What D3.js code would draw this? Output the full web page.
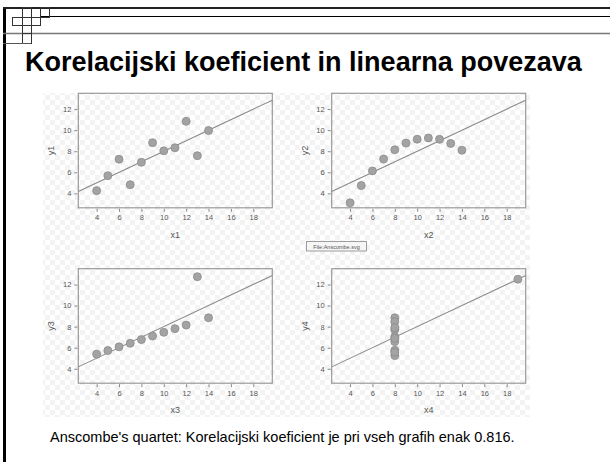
<!DOCTYPE html>
<html>
<head>
<meta charset="utf-8">
<script src="https://cdn.jsdelivr.net/npm/d3@7"></script>
<style>
body { margin:0; background:#fff; }
svg { display:block; font-family:"Liberation Sans", Arial, sans-serif; }
</style>
</head>
<body>
<div id="wrapper"></div>
<script>
var title = 'Korelacijski koeficient in linearna povezava';
var caption = "Anscombe's quartet: Korelacijski koeficient je pri vseh grafih enak 0.816.";

var x123 = [10,8,13,9,11,14,6,4,12,7,5];
var y1 = [8.04,6.95,7.58,8.81,8.33,9.96,7.24,4.26,10.84,4.82,5.68];
var y2 = [9.14,8.14,8.74,8.77,9.26,8.10,6.13,3.10,9.13,7.26,4.74];
var y3 = [7.46,6.77,12.74,7.11,7.81,8.84,6.08,5.39,8.15,6.42,5.73];
var x4 = [8,8,8,8,8,8,8,19,8,8,8];
var y4 = [6.58,5.76,7.71,8.84,8.47,7.04,5.25,12.50,5.56,7.91,6.89];

var xTicks = [4,6,8,10,12,14,16,18];
var yTicks = [4,6,8,10,12];
var fit = [3, 0.5]; // y = 3 + 0.5x

var panels = [
	{name:'1', xs:x123, ys:y1, col:0, row:0},
	{name:'2', xs:x123, ys:y2, col:1, row:0},
	{name:'3', xs:x123, ys:y3, col:0, row:1},
	{name:'4', xs:x4, ys:y4, col:1, row:1}
];

var canvas = d3.select('#wrapper')
				.append('svg')
				.attr('width',610)
				.attr('height',462);

// checker pattern of the embedded picture
var defs = canvas.append('defs');
var pat = defs.append('pattern')
				.attr('id','checker')
				.attr('width',10)
				.attr('height',10)
				.attr('patternUnits','userSpaceOnUse');
pat.append('rect').attr('width',10).attr('height',10).style('fill','#fff');
pat.append('rect').attr('width',5).attr('height',5).style('fill','#f3f3f3');
pat.append('rect').attr('x',5).attr('y',5).attr('width',5).attr('height',5).style('fill','#f3f3f3');

// slide frame
var frame = canvas.append('g').attr('id','frame');
frame.append('rect').attr('x',3).attr('y',7).attr('width',3).attr('height',455).style('fill','#000');
frame.append('line').attr('x1',3).attr('y1',8).attr('x2',610).attr('y2',8)
	.style('stroke','#222').style('stroke-width',2);
frame.append('line').attr('x1',40).attr('y1',16.5).attr('x2',610).attr('y2',16.5)
	.style('stroke','#000').style('stroke-width',1);
frame.append('line').attr('x1',3).attr('y1',33.5).attr('x2',610).attr('y2',33.5)
	.style('stroke','#777').style('stroke-width',1.5);

var squares = [[12,17,10,8],[22,7,9,10],[22,25,9,8],[22,33,9,10],[31,17,9,8],[40,7,9,10]];
frame.selectAll('rect.sq')
	.data(squares)
	.enter()
	.append('rect')
	.attr('class','sq')
	.attr('x',function(d){ return d[0]+0.5; })
	.attr('y',function(d){ return d[1]+0.5; })
	.attr('width',function(d){ return d[2]; })
	.attr('height',function(d){ return d[3]; })
	.style('fill','none')
	.style('stroke','#333')
	.style('stroke-width',1);
frame.append('line').attr('x1',3).attr('y1',43.5).attr('x2',31).attr('y2',43.5)
	.style('stroke','#555').style('stroke-width',1);

canvas.append('text')
	.attr('x',25)
	.attr('y',71)
	.text(title)
	.style('font-size','27px')
	.style('font-weight','bold')
	.style('fill','#000');

// picture area
canvas.append('rect')
	.attr('x',43).attr('y',93)
	.attr('width',487).attr('height',324)
	.style('fill','url(#checker)');

var pw = 194, ph = 114.5;
var colX = [78.3, 331.7], rowY = [93.3, 268.7];

var xscale = d3.scaleLinear().domain([2.36,19.7]).range([0,pw]);
var yscale = d3.scaleLinear().domain([2.63,13.5]).range([ph,0]);

panels.forEach(function(p){
	var g = canvas.append('g')
				.attr('transform','translate('+colX[p.col]+','+rowY[p.row]+')');

	g.append('rect')
		.attr('width',pw).attr('height',ph)
		.style('fill','none')
		.style('stroke','#999')
		.style('stroke-width',1.2);

	var xAxis = d3.axisBottom(xscale).tickValues(xTicks).tickSize(3).tickPadding(3);
	var yAxis = d3.axisLeft(yscale).tickValues(yTicks).tickSize(3).tickPadding(3);

	var xa = g.append('g').attr('transform','translate(0,'+(ph+1)+')').call(xAxis);
	var ya = g.append('g').attr('transform','translate(-1,0)').call(yAxis);
	[xa, ya].forEach(function(a){
		a.select('.domain').remove();
		a.selectAll('line').style('stroke','#888');
		a.selectAll('text').style('fill','#555').style('font-size','7.5px')
			.style('font-family','"Liberation Sans", Arial, sans-serif');
	});

	g.append('text')
		.attr('x',pw/2).attr('y',ph+30)
		.attr('text-anchor','middle')
		.text('x'+p.name)
		.style('font-size','9px').style('fill','#555');
	g.append('text')
		.attr('transform','translate(-24,'+(ph/2)+') rotate(-90)')
		.attr('text-anchor','middle')
		.text('y'+p.name)
		.style('font-size','9px').style('fill','#555');

	var dom = xscale.domain();
	g.append('line')
		.attr('x1',xscale(dom[0])).attr('y1',yscale(fit[0]+fit[1]*dom[0]))
		.attr('x2',xscale(dom[1])).attr('y2',yscale(fit[0]+fit[1]*dom[1]))
		.style('stroke','#8a8a8a').style('stroke-width',1.1);

	g.selectAll('circle')
		.data(p.xs)
		.enter()
		.append('circle')
		.attr('cx',function(d){ return xscale(d); })
		.attr('cy',function(d,i){ return yscale(p.ys[i]); })
		.attr('r',4)
		.style('fill','#a3a3a3')
		.style('stroke','#8c8c8c')
		.style('stroke-width',0.8);
});

// file link button
var btn = canvas.append('g').attr('transform','translate(306.5,241.5)');
btn.append('rect').attr('width',60).attr('height',9.5)
	.style('fill','#f6f6f6').style('stroke','#888').style('stroke-width',0.8);
btn.append('text').attr('x',30).attr('y',7).attr('text-anchor','middle')
	.text('File:Anscombe.svg').style('font-size','5.5px').style('fill','#555');

canvas.append('text')
	.attr('x',50)
	.attr('y',442)
	.text(caption)
	.style('font-size','14.5px')
	.style('fill','#000');
</script>
</body>
</html>
